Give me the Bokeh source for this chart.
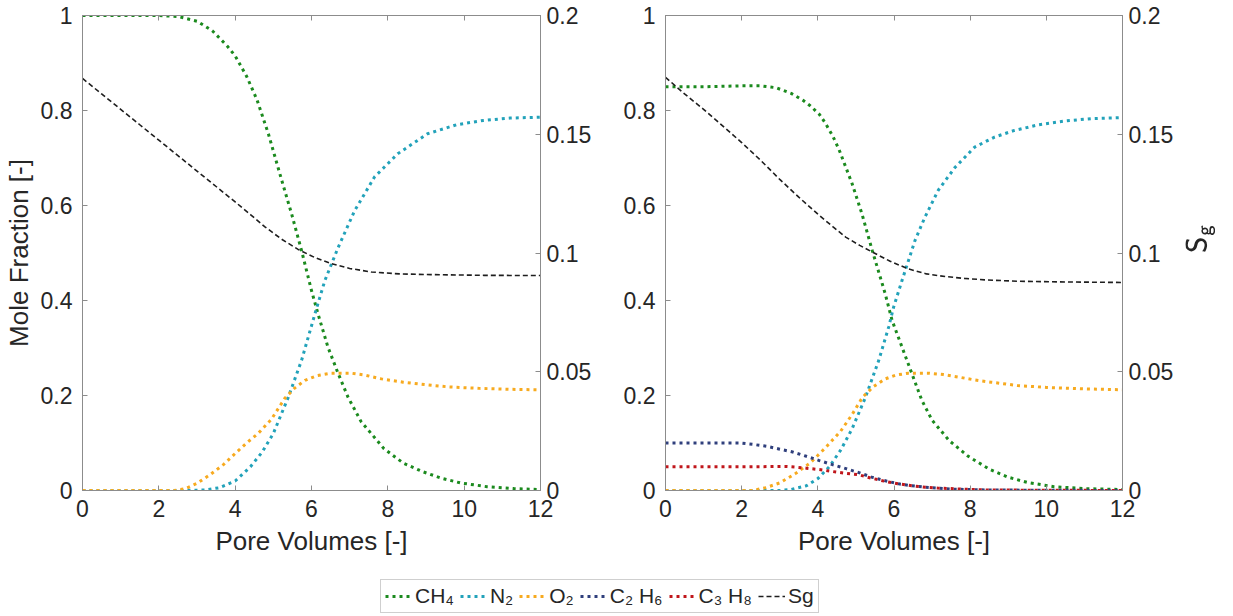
from bokeh.plotting import figure
from bokeh.models import Range1d, LinearAxis, FixedTicker, Legend, LegendItem
from bokeh.layouts import column, row
from bokeh.embed import file_html
from bokeh.resources import INLINE

# ---------------- data ----------------
# Left panel
L_ch4_x = [0, 1, 2, 2.5, 3.0, 3.4, 3.8, 4.0, 4.3, 4.57, 4.87, 5.22, 5.48, 5.74, 6.0, 6.17, 6.43, 6.7, 6.96, 7.3, 7.9, 8.4, 8.9, 9.4, 9.9, 10.6, 11.3, 12]
L_ch4_y = [1.0, 1.0, 1.0, 0.998, 0.988, 0.968, 0.935, 0.915, 0.872, 0.823, 0.751, 0.653, 0.582, 0.505, 0.421, 0.372, 0.302, 0.246, 0.196, 0.145, 0.088, 0.058, 0.04, 0.026, 0.016, 0.008, 0.004, 0.002]
L_n2_x = [0, 2.5, 3.2, 3.6, 4.0, 4.4, 4.7, 5.0, 5.39, 5.74, 6.09, 6.35, 6.7, 7.13, 7.65, 8.26, 9.04, 9.8, 10.5, 11.2, 12]
L_n2_y = [0, 0, 0.001, 0.006, 0.02, 0.05, 0.08, 0.12, 0.196, 0.274, 0.372, 0.442, 0.512, 0.589, 0.66, 0.709, 0.751, 0.77, 0.779, 0.784, 0.786]
L_o2_x = [0, 2.4, 2.7, 3.0, 3.34, 3.7, 4.0, 4.3, 4.6, 4.95, 5.3, 5.55, 5.83, 6.15, 6.52, 7.04, 7.4, 7.83, 8.4, 8.96, 9.6, 10.4, 11.2, 12]
L_o2_y = [0, 0, 0.004, 0.015, 0.033, 0.055, 0.078, 0.1, 0.12, 0.15, 0.194, 0.215, 0.232, 0.242, 0.247, 0.247, 0.243, 0.235, 0.228, 0.223, 0.218, 0.215, 0.213, 0.212]
L_sg_x = [0, 0.5, 1.0, 1.5, 2.0, 2.5, 3.0, 3.5, 4.0, 4.4, 4.78, 5.2, 5.65, 6.1, 6.52, 7.0, 7.57, 8.3, 9.13, 10.5, 12]
L_sg_y = [0.1735, 0.167, 0.1605, 0.154, 0.1475, 0.141, 0.1345, 0.128, 0.1215, 0.1162, 0.111, 0.106, 0.1015, 0.098, 0.0955, 0.0935, 0.092, 0.0912, 0.0909, 0.0906, 0.0905]

# Right panel
R_ch4_x = [0, 0.5, 1.0, 1.5, 2.0, 2.5, 2.9, 3.3, 3.6, 3.8, 4.04, 4.2, 4.4, 4.56, 4.9, 5.16, 5.43, 5.77, 5.95, 6.21, 6.47, 6.73, 7.0, 7.45, 7.95, 8.5, 9.0, 9.5, 10.2, 11.0, 12]
R_ch4_y = [0.85, 0.85, 0.85, 0.851, 0.852, 0.852, 0.848, 0.836, 0.822, 0.81, 0.792, 0.773, 0.745, 0.717, 0.646, 0.582, 0.505, 0.414, 0.358, 0.302, 0.246, 0.19, 0.148, 0.105, 0.072, 0.045, 0.028, 0.017, 0.008, 0.004, 0.002]
R_n2_x = [0, 3.0, 3.3, 3.7, 4.0, 4.3, 4.6, 4.9, 5.25, 5.6, 5.86, 5.99, 6.21, 6.55, 6.81, 7.16, 7.6, 8.12, 8.64, 9.16, 9.8, 10.5, 11.2, 12]
R_n2_y = [0, 0, 0.002, 0.01, 0.025, 0.05, 0.085, 0.13, 0.196, 0.274, 0.344, 0.386, 0.442, 0.526, 0.575, 0.632, 0.68, 0.723, 0.744, 0.758, 0.77, 0.778, 0.783, 0.785]
R_o2_x = [0, 2.3, 2.63, 3.0, 3.4, 3.8, 4.2, 4.6, 4.9, 5.17, 5.45, 5.77, 6.05, 6.38, 6.9, 7.3, 7.68, 8.1, 8.55, 9.24, 10.0, 11.0, 12]
R_o2_y = [0, 0, 0.006, 0.016, 0.035, 0.058, 0.09, 0.125, 0.16, 0.196, 0.218, 0.235, 0.243, 0.247, 0.247, 0.244, 0.239, 0.233, 0.228, 0.221, 0.217, 0.214, 0.212]
R_c2h6_x = [0, 1.0, 1.95, 2.3, 2.66, 3.0, 3.34, 3.7, 4.04, 4.4, 4.74, 5.1, 5.42, 5.8, 6.12, 6.46, 6.82, 7.5, 8.5, 12]
R_c2h6_y = [0.1, 0.1, 0.1, 0.097, 0.093, 0.087, 0.081, 0.072, 0.063, 0.054, 0.046, 0.037, 0.028, 0.02, 0.014, 0.01, 0.007, 0.003, 0.001, 0]
R_c3h8_x = [0, 1.0, 2.0, 3.18, 3.45, 3.7, 4.04, 4.38, 4.74, 5.08, 5.4, 5.78, 6.12, 6.46, 6.82, 7.16, 7.8, 8.5, 12]
R_c3h8_y = [0.05, 0.05, 0.05, 0.0505, 0.049, 0.047, 0.044, 0.04, 0.036, 0.033, 0.026, 0.019, 0.014, 0.01, 0.007, 0.005, 0.003, 0.001, 0]
R_sg_x = [0, 0.5, 1.0, 1.5, 2.0, 2.5, 3.0, 3.5, 4.04, 4.4, 4.73, 5.1, 5.43, 5.9, 6.38, 6.85, 7.34, 7.85, 8.38, 9.24, 10.5, 12]
R_sg_y = [0.174, 0.167, 0.1605, 0.1535, 0.1465, 0.139, 0.131, 0.1235, 0.1158, 0.111, 0.1067, 0.1032, 0.1004, 0.0965, 0.0933, 0.0912, 0.0901, 0.0893, 0.0887, 0.0881, 0.0878, 0.0876]

# ticks
x_ticks = [0, 2, 4, 6, 8, 10, 12]
mf_ticks = [0, 0.2, 0.4, 0.6, 0.8, 1]
mf_labels = ["0", "0.2", "0.4", "0.6", "0.8", "1"]
sg_ticks = [0, 0.05, 0.1, 0.15, 0.2]
sg_labels = ["0", "0.05", "0.1", "0.15", "0.2"]

legend_labels = ["CH\u2084", "N\u2082", "O\u2082", "C\u2082 H\u2086", "C\u2083 H\u2088", "Sg"]
sg_axis_label = r"$$\mathsf{S_g}$$"

# ---------------- styles ----------------
FONT = "Liberation Sans"
C_CH4 = "#1b8a1e"
C_N2 = "#22a2ba"
C_O2 = "#f7aa1f"
C_C2H6 = "#2f3f7c"
C_C3H8 = "#c0161b"
C_SG = "#1e1e1e"
AX = "#8c8c8c"
TXT = "#262626"
DOT = dict(line_width=3, line_dash="3 4")
DASH = dict(line_width=1.6, line_dash="5 3")


def style_axis(ax, ticks, labels=None, standoff=8, show_labels=True):
    ax.ticker = FixedTicker(ticks=ticks)
    if labels is not None:
        ax.major_label_overrides = {t: l for t, l in zip(ticks, labels)}
    ax.major_tick_in = 5
    ax.major_tick_out = 0
    ax.minor_tick_in = 0
    ax.minor_tick_out = 0
    ax.axis_line_color = AX
    ax.major_tick_line_color = AX
    ax.major_label_text_font = FONT
    if show_labels:
        ax.major_label_text_font_size = "23px"
        ax.major_label_text_color = TXT
    else:
        ax.major_label_text_font_size = "1px"
        ax.major_label_text_color = None
    ax.major_label_standoff = standoff
    ax.axis_label_text_font = FONT
    ax.axis_label_text_font_size = "26px"
    ax.axis_label_text_font_style = "normal"
    ax.axis_label_text_color = TXT


def make_panel(width, bl, br, left_label, right_label):
    p = figure(width=width, height=565, output_backend="svg", toolbar_location=None,
               x_range=Range1d(0, 12), y_range=Range1d(0, 1),
               min_border_left=bl, min_border_right=br, min_border_top=15, min_border_bottom=75)
    p.extra_y_ranges = {"sg": Range1d(0, 0.2)}
    p.grid.visible = False
    p.outline_line_color = AX
    p.background_fill_color = "white"
    p.border_fill_color = "white"

    xa = p.xaxis[0]
    style_axis(xa, x_ticks, standoff=9)
    xa.axis_label = "Pore Volumes [-]"
    xa.axis_label_standoff = 6

    ya = p.yaxis[0]
    style_axis(ya, mf_ticks, mf_labels, standoff=10)
    if left_label:
        ya.axis_label = left_label
        ya.axis_label_standoff = 4

    ra = LinearAxis(y_range_name="sg")
    style_axis(ra, sg_ticks, sg_labels, standoff=6)
    if right_label:
        ra.axis_label = right_label
        ra.axis_label_standoff = 24
        ra.axis_label_text_font_size = "24px"
        if "axis_label_orientation" in ra.properties():
            ra.axis_label_orientation = 1.5708
    p.add_layout(ra, "right")

    ta = LinearAxis()
    style_axis(ta, x_ticks, show_labels=False, standoff=0)
    p.add_layout(ta, "above")
    return p


p1 = make_panel(615, 80, 75, "Mole Fraction [-]", None)
p1.line(L_ch4_x, L_ch4_y, color=C_CH4, **DOT)
p1.line(L_n2_x, L_n2_y, color=C_N2, **DOT)
p1.line(L_o2_x, L_o2_y, color=C_O2, **DOT)
p1.line(L_sg_x, L_sg_y, color=C_SG, y_range_name="sg", **DASH)

p2 = make_panel(618, 50, 108, None, sg_axis_label)
p2.line(R_ch4_x, R_ch4_y, color=C_CH4, **DOT)
p2.line(R_n2_x, R_n2_y, color=C_N2, **DOT)
p2.line(R_o2_x, R_o2_y, color=C_O2, **DOT)
p2.line(R_c2h6_x, R_c2h6_y, color=C_C2H6, **DOT)
p2.line(R_c3h8_x, R_c3h8_y, color=C_C3H8, **DOT)
p2.line(R_sg_x, R_sg_y, color=C_SG, y_range_name="sg", **DASH)

# ---------------- legend strip ----------------
leg = figure(width=1233, height=51, output_backend="svg", toolbar_location=None,
             x_range=Range1d(0, 1), y_range=Range1d(0, 1), x_axis_type=None, y_axis_type=None,
             min_border=0)
leg.grid.visible = False
leg.outline_line_color = None
styles = [(C_CH4, DOT), (C_N2, DOT), (C_O2, DOT), (C_C2H6, DOT), (C_C3H8, DOT), (C_SG, DASH)]
nan = float("nan")
items = []
for lab, (c, st) in zip(legend_labels, styles):
    r = leg.line(x=[nan], y=[nan], color=c, **st)   # legend-only proxy, draws nothing
    items.append(LegendItem(label=lab, renderers=[r]))
legend = Legend(items=items, orientation="horizontal", location=(380, 3),
                label_text_font=FONT, label_text_font_size="21px", label_text_color=TXT,
                glyph_width=27, glyph_height=20, label_standoff=3, spacing=6,
                padding=4, margin=0, border_line_color="#a0a0a0", border_line_width=1,
                background_fill_alpha=1)
leg.add_layout(legend)

layout = column(row(p1, p2), leg)
open("out.html", "w").write(file_html(layout, INLINE))
